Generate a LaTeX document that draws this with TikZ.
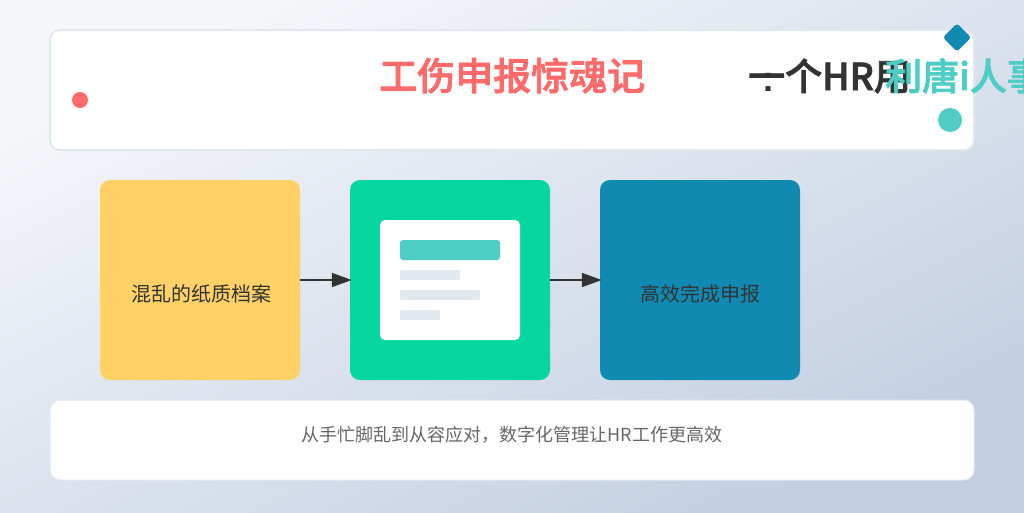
\documentclass[tikz,border=0pt]{standalone}
\usepackage{fontspec}
\usetikzlibrary{arrows.meta}
\setmainfont{Noto Sans CJK SC}
\newfontfamily\headfont[FakeBold=2]{Noto Sans CJK SC Medium}
\newfontfamily\colonfont{Liberation Sans Bold}

\definecolor{bgstart}{HTML}{F5F7FA}
\definecolor{bgend}{HTML}{C3CFE2}
\definecolor{panelline}{HTML}{E2E8F0}
\definecolor{titlered}{HTML}{FF6B6B}
\definecolor{titleteal}{HTML}{4ECDC4}
\definecolor{boxyellow}{HTML}{FFD166}
\definecolor{boxgreen}{HTML}{06D6A0}
\definecolor{boxblue}{HTML}{118AB2}
\definecolor{textdark}{HTML}{333333}
\definecolor{textgrey}{HTML}{666666}

\tikzset{
	panel/.style={fill=white, draw=panelline, line width=2pt, rounded corners=10pt},
	stagebox/.style={rounded corners=10pt, minimum width=200pt, minimum height=200pt, inner sep=0pt},
	stagelabel/.style={font=\fontsize{20}{24}\selectfont, text=textdark},
	flowarrow/.style={draw=textdark, line width=1.6pt, -{Triangle[length=20pt, width=14pt]}, shorten >=-2pt},
	titlefont/.style={font=\fontsize{37}{42}\selectfont\headfont, inner sep=0pt, anchor=base west},
}

\begin{document}
\begin{tikzpicture}[x=1pt, y=-1pt]
	\useasboundingbox (0, 0) rectangle (1024, 512);
	\clip (0, 0) rectangle (1024, 512);
	\shade[bottom color=bgstart, top color=bgend, shading angle=206.57] (0, 0) rectangle (1024, 512);

	% panels
	\draw[panel] (50, 30) rectangle (974, 150);
	\draw[panel, line width=1pt] (50, 400) rectangle (974, 480);

	% heading
	\node[titlefont, text=titlered, font=\fontsize{38}{42}\selectfont\headfont] (heading) at (379, 90) {工伤申报惊魂记};
	\node[titlefont, text=textdark, font=\fontsize{36}{42}\selectfont\colonfont] (colon) at (762, 91) {:};
	\node[titlefont, text=textdark] (subheading) at (748, 90) {一个HR用};
	\node[titlefont, text=titleteal] (product) at (885, 90) {利唐i人事};

	% decorations
	\fill[titlered] (80, 100) circle (8);
	\fill[titleteal] (950, 120) circle (12);
	\fill[boxblue, rounded corners=3pt, rotate around={45:(957, 37.5)}] (947, 27.5) rectangle (967, 47.5);

	% stages
	\node[stagebox, fill=boxyellow] (paper) at (200, 280) {};
	\node[stagebox, fill=boxgreen] (form) at (450, 280) {};
	\node[stagebox, fill=boxblue] (done) at (700, 280) {};
	\node[stagelabel] (paperlabel) at (201, 293.5) {混乱的纸质档案};
	\node[stagelabel] (donelabel) at (700, 293.5) {高效完成申报};

	% form card
	\fill[white, rounded corners=5pt] (380, 220) rectangle (520, 340);
	\fill[titleteal, rounded corners=3pt] (400, 240) rectangle (500, 260);
	\fill[panelline, rounded corners=2pt] (400, 270) rectangle (460, 280);
	\fill[panelline, rounded corners=2pt] (400, 290) rectangle (480, 300);
	\fill[panelline, rounded corners=2pt] (400, 310) rectangle (440, 320);

	\draw[flowarrow] (paper) -- (form);
	\draw[flowarrow] (form) -- (done);

	\node[font=\fontsize{18}{22}\selectfont, text=textgrey] (summary) at (512, 434.5) {从手忙脚乱到从容应对，数字化管理让HR工作更高效};
\end{tikzpicture}
\end{document}
